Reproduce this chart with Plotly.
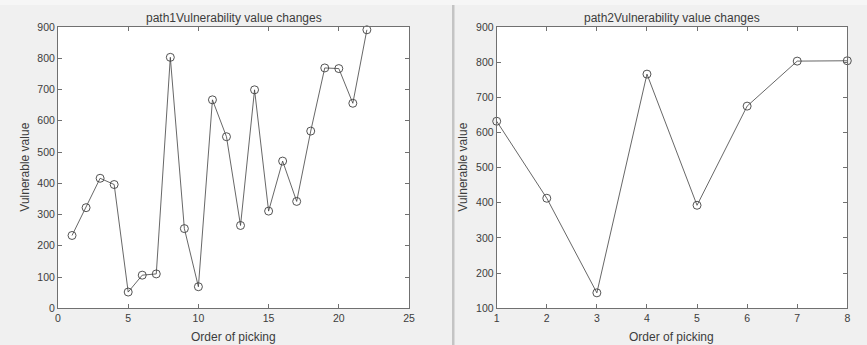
import plotly.graph_objects as go

# Data
order1 = list(range(1, 23))
vuln1 = [233, 322, 416, 396, 52, 106, 110, 803, 255, 69, 667, 549,
         265, 699, 311, 471, 342, 567, 769, 767, 656, 891]
order2 = list(range(1, 9))
vuln2 = [632, 413, 144, 766, 393, 675, 803, 804]

titles = ["path1Vulnerability value changes", "path2Vulnerability value changes"]
xlabel = "Order of picking"
ylabel = "Vulnerable value"

W, H = 867, 345
line_col = "#404040"
axis_col = "#707070"
text_col = "#3c3c3c"
font = "Liberation Sans, Arial, sans-serif"

fig = go.Figure()
for i, (xs, ys) in enumerate([(order1, vuln1), (order2, vuln2)]):
    fig.add_trace(go.Scatter(
        x=xs, y=ys, mode="lines+markers",
        xaxis="x" if i == 0 else "x2", yaxis="y" if i == 0 else "y2",
        line=dict(color=line_col, width=0.8),
        marker=dict(symbol="circle-open", size=8, color=line_col, line=dict(width=0.9)),
        showlegend=False, cliponaxis=False,
    ))

ytop = 1 - 27 / H
ybot = 1 - 308.3 / H
dom1 = [58 / W, 409 / W]
dom2 = [496.7 / W, 847.3 / W]

common = dict(showline=True, linecolor=axis_col, linewidth=1, mirror="ticks",
              ticks="inside", ticklen=4, tickcolor=axis_col, showgrid=False,
              zeroline=False, automargin=False,
              tickfont=dict(size=10.5, color=text_col, family=font))

fig.update_layout(
    width=W, height=H, margin=dict(l=0, r=0, t=0, b=0, pad=0), autosize=False,
    paper_bgcolor="#f0f0f0", plot_bgcolor="#ffffff",
    xaxis=dict(domain=dom1, range=[0, 25], tickvals=[0, 5, 10, 15, 20, 25], anchor="y", **common),
    yaxis=dict(domain=[ybot, ytop], range=[0, 900], tickvals=list(range(0, 901, 100)), anchor="x", **common),
    xaxis2=dict(domain=dom2, range=[1, 8], tickvals=list(range(1, 9)), anchor="y2", **common),
    yaxis2=dict(domain=[ybot, ytop], range=[100, 900], tickvals=list(range(100, 901, 100)), anchor="x2", **common),
    shapes=[
        dict(type="rect", xref="paper", yref="paper", x0=452 / W, x1=454.5 / W, y0=0, y1=1,
             fillcolor="#c4c4c4", line=dict(width=0), layer="below"),
        dict(type="rect", xref="paper", yref="paper", x0=0, x1=1, y0=1 - 5 / H, y1=1,
             fillcolor="#f6f6f6", line=dict(width=0), layer="below"),
    ],
)

ann = []
for dom, t, ylx in [(dom1, titles[0], 25), (dom2, titles[1], 463)]:
    cx = (dom[0] + dom[1]) / 2
    ann.append(dict(text=t, x=cx, y=1 - 18 / H, xref="paper", yref="paper",
                    showarrow=False, font=dict(size=12, color=text_col, family=font),
                    xanchor="center", yanchor="middle"))
    ann.append(dict(text=xlabel, x=cx, y=1 - 337 / H, xref="paper", yref="paper",
                    showarrow=False, font=dict(size=12, color=text_col, family=font),
                    xanchor="center", yanchor="middle"))
    ann.append(dict(text=ylabel, x=ylx / W, y=(ybot + ytop) / 2, xref="paper", yref="paper",
                    showarrow=False, textangle=-90, font=dict(size=12, color=text_col, family=font),
                    xanchor="center", yanchor="middle"))
fig.update_layout(annotations=ann)

# Write with inline plotly.js, then remove the default body margin
fig.write_html("out.html", config={"displayModeBar": False, "responsive": False})
with open("out.html", "r", encoding="utf-8") as f:
    html = f.read()
html = html.replace("<body>", "<body style=\"margin:0;overflow:hidden;\">", 1)
with open("out.html", "w", encoding="utf-8") as f:
    f.write(html)
